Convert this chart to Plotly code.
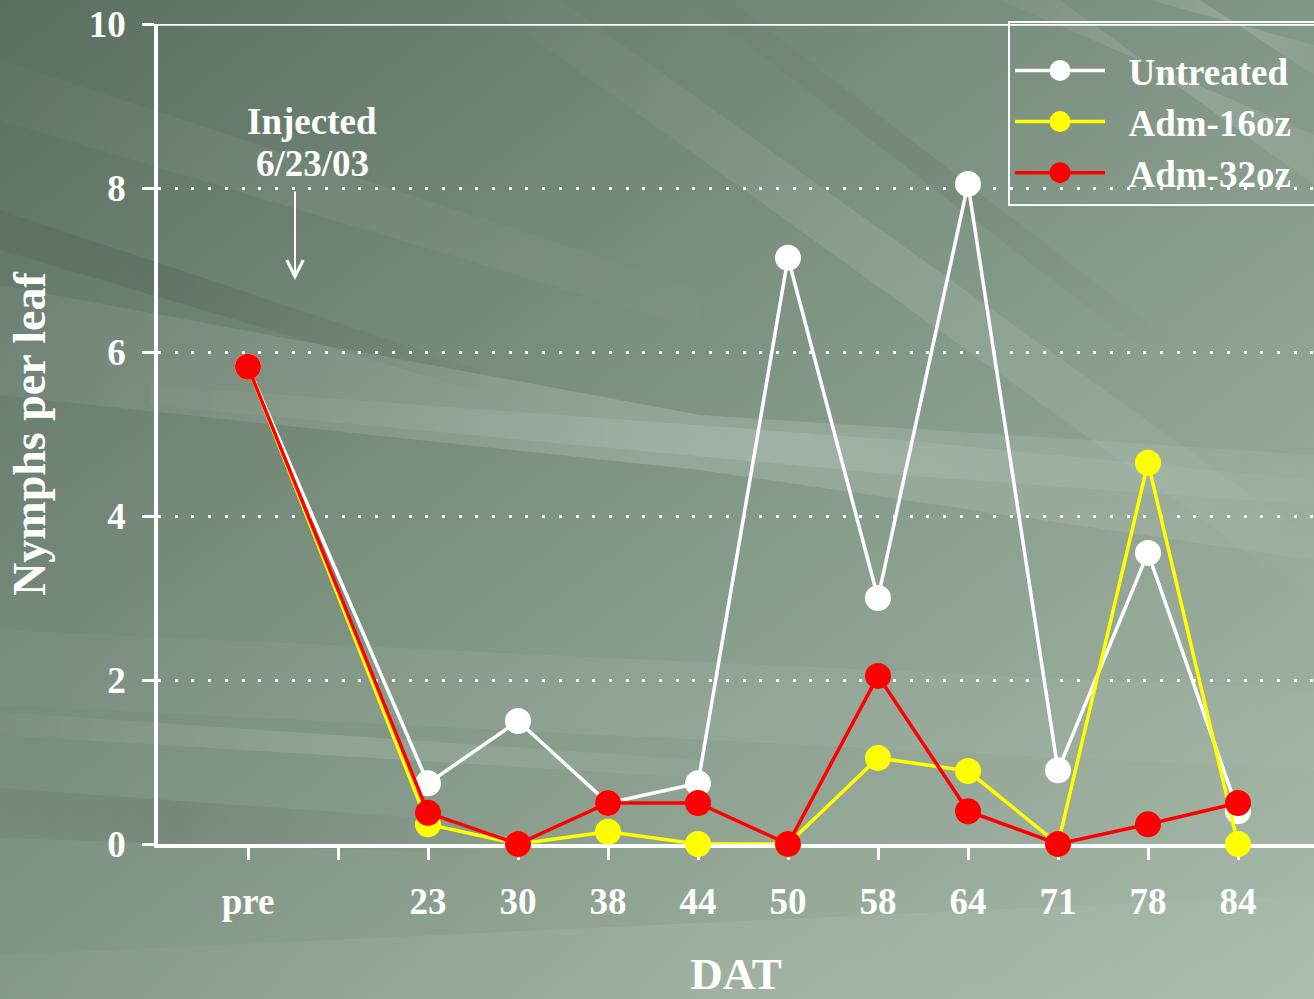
import base64
import plotly.graph_objects as go

# Sampling dates (days after treatment); the blank slot keeps a gap after "pre"
categories = ["pre", " ", "23", "30", "38", "44", "50", "58", "64", "71", "78", "84"]
dates = ["pre", "23", "30", "38", "44", "50", "58", "64", "71", "78", "84"]

untreated = [5.82, 0.74, 1.50, 0.50, 0.74, 7.15, 3.00, 8.05, 0.90, 3.55, 0.40]
adm_16oz = [5.82, 0.24, 0.00, 0.15, 0.00, 0.00, 1.05, 0.89, 0.00, 4.65, 0.00]
adm_32oz = [5.82, 0.38, 0.00, 0.50, 0.50, 0.00, 2.05, 0.40, 0.00, 0.24, 0.50]

y_ticks = [0, 2, 4, 6, 8, 10]

W, H = 1314, 999
L, R, T, B = 158, 0, 24, 155
PW, PH = W - L - R, H - T - B

FONT = "Liberation Serif"


def streak(gid, pts, x1, y1, x2, y2, color, peak):
    """A translucent band whose opacity fades in and out along (x1,y1)->(x2,y2)."""
    grad = (f"<linearGradient id='{gid}' gradientUnits='userSpaceOnUse' "
            f"x1='{x1}' y1='{y1}' x2='{x2}' y2='{y2}'>"
            f"<stop offset='0' stop-color='{color}' stop-opacity='0'/>"
            f"<stop offset='0.5' stop-color='{color}' stop-opacity='{peak}'/>"
            f"<stop offset='1' stop-color='{color}' stop-opacity='0'/>"
            f"</linearGradient>")
    poly = f"<polygon points='{pts}' fill='url(#{gid})'/>"
    return grad, poly


bands = [
    ("s1", "0,285 0,395 700,470 1314,560 1314,455 700,415", -300, 300, 1600, 520, "#ffffff", 0.16),
    ("s2", "150,385 900,440 1314,480 1314,505 900,475 150,405", 0, 390, 1500, 500, "#ffffff", 0.12),
    ("s3", "480,0 560,0 1314,540 1314,600", 450, 0, 1350, 600, "#ffffff", 0.10),
    ("s4", "690,0 730,0 1170,340 1130,340", 650, 0, 1200, 340, "#000000", 0.06),
    ("s5", "1000,0 1060,0 1314,185 1314,135", 950, 0, 1400, 200, "#ffffff", 0.14),
    ("s6", "1150,0 1200,0 1314,75 1314,45", 1100, 0, 1350, 80, "#ffffff", 0.18),
    ("s7", "0,210 0,250 480,392 480,370", -250, 190, 560, 400, "#000000", 0.09),
    ("s8", "0,712 0,735 700,778 700,760", -100, 720, 800, 770, "#ffffff", 0.12),
    ("s9", "0,788 0,838 480,854 480,822", -200, 800, 560, 840, "#000000", 0.08),
    ("s10", "0,630 0,705 1314,770 1314,690", -400, 660, 1700, 730, "#ffffff", 0.06),
    ("s11", "0,955 0,999 1314,999 1314,895", -300, 960, 1700, 930, "#ffffff", 0.08),
    ("s12", "0,60 0,120 700,330 700,290", -200, 80, 800, 320, "#ffffff", 0.05),
]
defs, polys = [], []
for b in bands:
    g, p = streak(*b)
    defs.append(g)
    polys.append(p)

# Slide-style backdrop: green-grey gradient with soft light/dark streaks
bg_svg = (
    f"<svg xmlns='http://www.w3.org/2000/svg' width='{W}' height='{H}' viewBox='0 0 {W} {H}'>"
    "<defs>"
    "<linearGradient id='g' x1='0' y1='0' x2='1' y2='1'>"
    "<stop offset='0' stop-color='#5b6f60'/>"
    "<stop offset='0.45' stop-color='#7f9383'/>"
    "<stop offset='1' stop-color='#a9bbaa'/>"
    "</linearGradient>"
    + "".join(defs) +
    "</defs>"
    f"<rect width='{W}' height='{H}' fill='url(#g)'/>"
    + "".join(polys) +
    "</svg>"
)
bg_uri = "data:image/svg+xml;base64," + base64.b64encode(bg_svg.encode()).decode()

fig = go.Figure()

series = [
    ("\u2002Untreated\u2002", untreated, "#ffffff"),
    ("\u2002Adm-16oz\u2002", adm_16oz, "#ffff00"),
    ("\u2002Adm-32oz\u2002", adm_32oz, "#ff0000"),
]
for name, vals, color in series:
    fig.add_trace(go.Scatter(
        x=dates, y=vals, name=name, mode="lines+markers",
        line=dict(color=color, width=3.5),
        marker=dict(color=color, size=21, line=dict(color=color, width=5)),
        cliponaxis=False,
    ))

axis_font = dict(family=FONT, size=37, color="white", weight="bold")
title_font = dict(family=FONT, size=46, color="white", weight="bold")

fig.update_xaxes(
    type="category", categoryorder="array", categoryarray=categories,
    range=[-1, -1 + PW / 90.0],
    showline=True, linecolor="white", linewidth=3.5,
    ticks="outside", ticklen=12, tickwidth=3, tickcolor="white",
    tickfont=axis_font, ticklabelstandoff=10,
    showgrid=False, zeroline=False, layer="below traces",
    title=dict(text="DAT", font=dict(family=FONT, size=45, color="white", weight="bold"), standoff=40),
)
fig.update_yaxes(
    range=[0, 10], tickvals=y_ticks,
    showline=True, linecolor="white", linewidth=3.5,
    ticks="outside", ticklen=12, tickwidth=3, tickcolor="white",
    tickfont=axis_font, ticklabelstandoff=9,
    showgrid=True, gridcolor="white", gridwidth=3, griddash="3px,13.7px",
    zeroline=False, layer="below traces",
    title=dict(text="Nymphs per leaf", font=title_font, standoff=30),
)

# Solid frame line across the top of the plotting area
fig.add_shape(type="line", xref="paper", yref="y", x0=0, x1=1, y0=10, y1=10,
              line=dict(color="white", width=3.5), layer="below")


def px_x(p):
    return (p - L) / PW


def px_y(p):
    return (H - B - p) / PH


note_font = dict(family=FONT, size=37, color="white", weight="bold")
fig.add_annotation(x=px_x(312), y=px_y(121), xref="paper", yref="paper",
                   xanchor="center", yanchor="middle",
                   text="Injected", showarrow=False, font=note_font)
fig.add_annotation(x=px_x(312), y=px_y(163), xref="paper", yref="paper",
                   xanchor="center", yanchor="middle",
                   text="6/23/03", showarrow=False, font=note_font)
fig.add_annotation(x=px_x(295), y=px_y(280), xref="paper", yref="paper",
                   text="", showarrow=True, ax=0, ay=-90,
                   arrowhead=5, arrowsize=1.6, arrowwidth=2, arrowcolor="white")

fig.add_layout_image(dict(
    source=bg_uri, xref="paper", yref="paper",
    x=-L / PW, y=1 + T / PH, sizex=W / PW, sizey=H / PH,
    xanchor="left", yanchor="top", sizing="stretch", layer="below",
))

fig.update_layout(
    width=W, height=H,
    margin=dict(l=L, r=R, t=T, b=B, autoexpand=False),
    paper_bgcolor="#7f9383", plot_bgcolor="rgba(0,0,0,0)",
    font=dict(family=FONT, color="white"),
    showlegend=True,
    legend=dict(
        x=px_x(1008), y=px_y(21), xanchor="left", yanchor="top",
        bgcolor="rgba(0,0,0,0)", bordercolor="white", borderwidth=2,
        font=dict(family=FONT, size=37, color="white", weight="bold"),
        itemwidth=90, tracegroupgap=0,
        title=dict(text=" ", font=dict(size=13)),
    ),
)

fig.write_html("out.html")
